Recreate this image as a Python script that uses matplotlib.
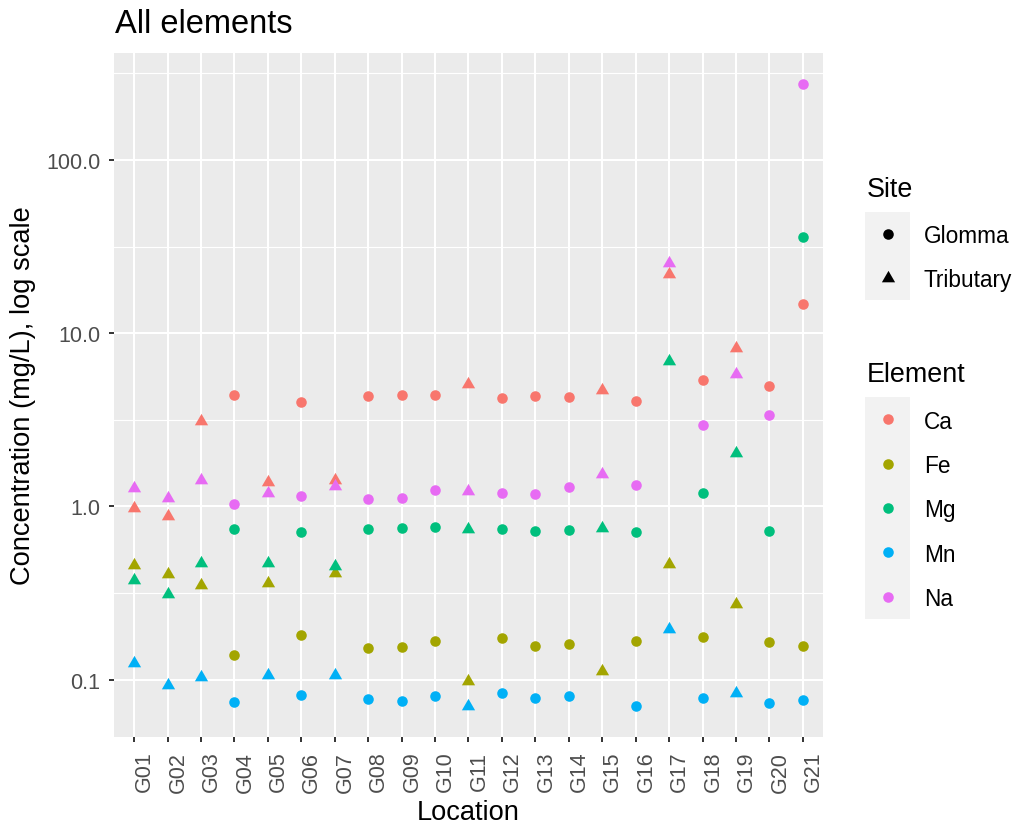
import numpy as np
import matplotlib
matplotlib.use("Agg")
import matplotlib.pyplot as plt
from matplotlib.patches import Rectangle

plt.rcParams["font.family"] = ["Liberation Sans", "DejaVu Sans"]

# ---- data -------------------------------------------------------------
locations = ["G01", "G02", "G03", "G04", "G05", "G06", "G07", "G08", "G09", "G10",
             "G11", "G12", "G13", "G14", "G15", "G16", "G17", "G18", "G19", "G20", "G21"]
site = ["Tributary", "Tributary", "Tributary", "Glomma", "Tributary", "Glomma", "Tributary",
        "Glomma", "Glomma", "Glomma", "Tributary", "Glomma", "Glomma", "Glomma", "Tributary",
        "Glomma", "Tributary", "Glomma", "Tributary", "Glomma", "Glomma"]

ca = [0.974, 0.879, 3.11, 4.42, 1.38, 4.01, 1.42, 4.32, 4.38, 4.37, 5.07,
      4.23, 4.32, 4.30, 4.68, 4.05, 22.0, 5.37, 8.18, 4.98, 14.7]
fe = [0.460, 0.406, 0.354, 0.138, 0.363, 0.180, 0.412, 0.153, 0.155, 0.168, 0.098,
      0.173, 0.156, 0.161, 0.112, 0.168, 0.468, 0.176, 0.274, 0.166, 0.157]
mg = [0.377, 0.312, 0.472, 0.742, 0.470, 0.716, 0.454, 0.742, 0.755, 0.765, 0.738,
      0.745, 0.725, 0.735, 0.749, 0.710, 6.92, 1.196, 2.03, 0.722, 35.7]
mn = [0.125, 0.093, 0.103, 0.0741, 0.107, 0.082, 0.106, 0.0778, 0.0751, 0.0806, 0.0706,
      0.0843, 0.0785, 0.0806, np.nan, 0.0709, 0.195, 0.0788, 0.0839, 0.0738, 0.0764]
na = [1.27, 1.12, 1.42, 1.04, 1.19, 1.146, 1.31, 1.10, 1.12, 1.24, 1.23,
      1.19, 1.18, 1.30, 1.53, 1.33, 25.5, 2.94, 5.80, 3.36, 274.0]

elements = ["Ca", "Fe", "Mg", "Mn", "Na"]
element_values = [ca, fe, mg, mn, na]
element_colors = ["#F8766D", "#A3A500", "#00BF7D", "#00B0F6", "#E76BF3"]
sites = ["Glomma", "Tributary"]

# triangle centred on its centroid (like R's filled triangle)
TRI = [(0.0, 1.0), (-0.866, -0.5), (0.866, -0.5), (0.0, 1.0)]
site_markers = {"Glomma": ("o", 7.6), "Tributary": (TRI, 11.0)}

# ---- figure -----------------------------------------------------------
W, H = 1016, 828
fig = plt.figure(figsize=(W / 100, H / 100), dpi=100)
L, R, T, B = 114, 823, 54, 738
ax = fig.add_axes([L / W, 1 - B / H, (R - L) / W, (B - T) / H])
ax.set_facecolor("#EBEBEB")
for s in ax.spines.values():
    s.set_visible(False)

x = np.arange(len(locations))
site_arr = np.array(site)
for name, vals, col in zip(elements, element_values, element_colors):
    vals = np.asarray(vals, dtype=float)
    for st in sites:
        m = site_arr == st
        mk, ms = site_markers[st]
        ax.plot(x[m], vals[m], linestyle="none", marker=mk, markersize=ms,
                color=col, markeredgewidth=0, zorder=3)

ax.set_yscale("log")
yticks = [0.1, 1.0, 10.0, 100.0]
ax.set_yticks(yticks)
ax.set_yticklabels([f"{v:.1f}" for v in yticks])
ax.set_yticks([10 ** (k + 0.5) for k in range(-2, 3)], minor=True)
ax.yaxis.set_minor_formatter(plt.NullFormatter())
ax.set_xticks(x)
ax.set_xticklabels(locations, rotation=90, ha="left")

# limits: data range plus 5% padding in log space
allv = np.concatenate([np.asarray(v, dtype=float) for v in element_values])
allv = allv[~np.isnan(allv)]
lo, hi = np.log10(allv.min()), np.log10(allv.max())
pad = 0.05 * (hi - lo)
ax.set_ylim(10 ** (lo - pad), 10 ** (hi + pad))
ax.set_xlim(-0.6, len(locations) - 0.4)

ax.grid(True, which="major", color="white", linewidth=1.5, zorder=0)
ax.grid(True, which="minor", axis="y", color="white", linewidth=0.8, zorder=0)
ax.set_axisbelow(True)
ax.tick_params(which="major", length=3.6, width=1.4, color="#333333",
               labelcolor="#4D4D4D", labelsize=15.5, pad=6.3)
ax.tick_params(which="minor", length=0)

# ---- text and legends in pixel space ---------------------------------
ov = fig.add_axes([0, 0, 1, 1], facecolor="none")
ov.set_xlim(0, W)
ov.set_ylim(H, 0)
ov.axis("off")

TITLE_FS, AXIS_FS, LEG_TITLE_FS, LEG_FS = 23.5, 19.6, 19.4, 16.3

ov.text(115, 33.3, "All elements", fontsize=TITLE_FS, color="black", va="baseline", ha="left")
ov.text((L + R) / 2, 820, "Location", fontsize=AXIS_FS, color="black", ha="center",
        va="baseline")
ov.text(23, (T + B) / 2, "Concentration (mg/L), log scale", fontsize=AXIS_FS, color="black",
        rotation=90, ha="center", va="center")

key_x0, key_w, key_h, mk_x, lab_x = 865, 45, 44.3, 887.7, 924

# Site legend
ov.text(866.5, 196.7, "Site", fontsize=LEG_TITLE_FS, va="baseline", ha="left")
top = 212.7
ov.add_patch(Rectangle((key_x0, top), key_w, key_h * len(sites), facecolor="#F2F2F2",
                       edgecolor="none"))
for i, st in enumerate(sites):
    cy = top + key_h * (i + 0.5)
    mk, ms = site_markers[st]
    ov.plot([mk_x], [cy], linestyle="none", marker=mk, markersize=ms, color="black",
            markeredgewidth=0)
    ov.text(lab_x, cy + 8.3, st, fontsize=LEG_FS, va="baseline", ha="left")

# Element legend
ov.text(866.5, 381.7, "Element", fontsize=LEG_TITLE_FS, va="baseline", ha="left")
top = 398.3
ov.add_patch(Rectangle((key_x0, top), key_w, key_h * len(elements), facecolor="#F2F2F2",
                       edgecolor="none"))
for i, (name, col) in enumerate(zip(elements, element_colors)):
    cy = top + key_h * (i + 0.5)
    ov.plot([mk_x], [cy], linestyle="none", marker="o", markersize=7.6, color=col,
            markeredgewidth=0)
    ov.text(lab_x, cy + 8.3, name, fontsize=LEG_FS, va="baseline", ha="left")

fig.savefig("out.png", dpi=100, facecolor="white")
